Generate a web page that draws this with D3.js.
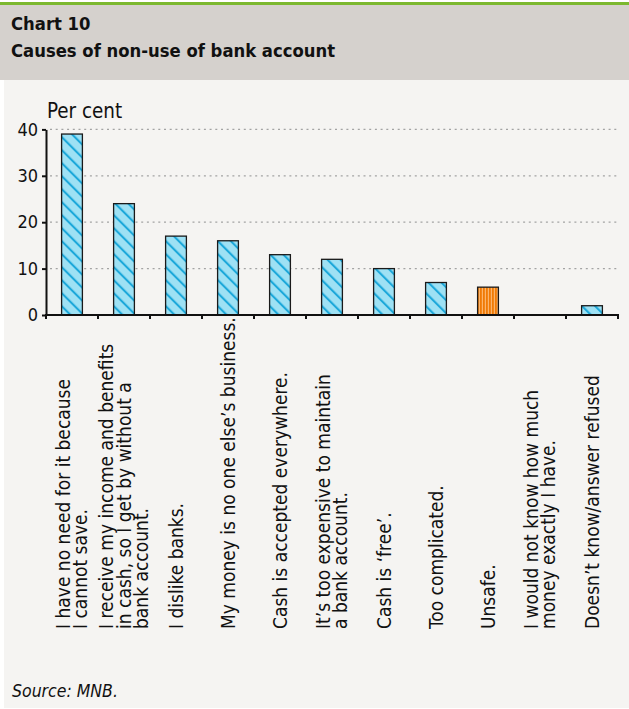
<!DOCTYPE html>
<html>
<head>
<meta charset="utf-8">
<script src="https://cdn.jsdelivr.net/npm/d3@7"></script>
<style>
  body { margin: 0; background: #ffffff; }
  svg { display: block; }
  text { font-family: "DejaVu Sans Condensed", "DejaVu Sans", sans-serif; font-stretch: condensed; fill: #111; }
</style>
</head>
<body>
<svg id="chart" width="629" height="709"></svg>
<script>
// Survey answers: why respondents do not use a bank account (per cent)
const categories = [
  ["I have no need for it because", "I cannot save."],
  ["I receive my income and benefits", "in cash, so I get by without a", "bank account."],
  ["I dislike banks."],
  ["My money is no one else’s business."],
  ["Cash is accepted everywhere."],
  ["It’s too expensive to maintain", "a bank account."],
  ["Cash is ‘free’."],
  ["Too complicated."],
  ["Unsafe."],
  ["I would not know how much", "money exactly I have."],
  ["Doesn’t know/answer refused"]
];
const values = [39, 24, 17, 16, 13, 12, 10, 7, 6, 0, 2];
const highlighted = [false, false, false, false, false, false, false, false, true, false, false];
const yTicks = [0, 10, 20, 30, 40];

const W = 629, H = 709;
const plot = { left: 46, right: 618, bottom: 315, top: 129.4 };

const svg = d3.select("#chart");

// Panel backgrounds
svg.append("rect").attr("x", 0).attr("y", 0).attr("width", W).attr("height", H).attr("fill", "#ffffff");
svg.append("rect").attr("x", 4).attr("y", 80).attr("width", W - 4).attr("height", H - 81).attr("fill", "#f5f4f2");
svg.append("rect").attr("x", 0).attr("y", 5).attr("width", W).attr("height", 75).attr("fill", "#d5d1cd");
svg.append("rect").attr("x", 0).attr("y", 2).attr("width", W).attr("height", 3).attr("fill", "#7cb82f");

// Heading
svg.append("text").attr("x", 11).attr("y", 30)
  .style("font-size", "18.3px").style("font-weight", "bold").text("Chart 10");
svg.append("text").attr("x", 11).attr("y", 57)
  .style("font-size", "18.3px").style("font-weight", "bold").text("Causes of non-use of bank account");

// Fill patterns
const defs = svg.append("defs");
const hatch = defs.append("pattern")
  .attr("id", "hatch").attr("patternUnits", "userSpaceOnUse")
  .attr("width", 9.2).attr("height", 9.2)
  .attr("patternTransform", "rotate(-45)");
hatch.append("rect").attr("width", 9.2).attr("height", 9.2).attr("fill", "#9ee1f4");
hatch.append("line").attr("x1", 2).attr("y1", 0).attr("x2", 2).attr("y2", 9.2)
  .attr("stroke", "#17a6d9").attr("stroke-width", 2);

const stripes = defs.append("pattern")
  .attr("id", "stripes").attr("patternUnits", "userSpaceOnUse")
  .attr("width", 3).attr("height", 3);
stripes.append("rect").attr("width", 3).attr("height", 3).attr("fill", "#f07a05");
stripes.append("rect").attr("x", 1.8).attr("width", 1.2).attr("height", 3).attr("fill", "#fbb46c");

// Scales
const idx = d3.range(categories.length);
const x = d3.scaleBand().domain(idx).range([plot.left, plot.right])
  .paddingInner(0.6).paddingOuter(0.3);
const y = d3.scaleLinear().domain([0, 40]).range([plot.bottom, plot.top]);

// Dotted gridlines
svg.append("g").selectAll("line")
  .data(yTicks.filter(t => t > 0))
  .join("line")
  .attr("x1", plot.left + 4).attr("x2", plot.right)
  .attr("y1", d => y(d)).attr("y2", d => y(d))
  .attr("stroke", "#a3a3a3").attr("stroke-width", 1.3)
  .attr("stroke-dasharray", "2,3.7");

// Bars
svg.append("g").selectAll("rect")
  .data(idx)
  .join("rect")
  .attr("x", i => x(i))
  .attr("width", x.bandwidth())
  .attr("y", i => y(values[i]))
  .attr("height", i => y(0) - y(values[i]))
  .attr("fill", i => highlighted[i] ? "url(#stripes)" : "url(#hatch)")
  .attr("stroke", i => values[i] > 0 ? "#1a1a1a" : "none")
  .attr("stroke-width", 1.3);

// Y axis
const yAxis = svg.append("g")
  .attr("transform", `translate(${plot.left},0)`)
  .call(d3.axisLeft(y).tickValues(yTicks).tickSize(4).tickSizeOuter(0).tickPadding(4));
yAxis.select(".domain").attr("stroke", "#111").attr("stroke-width", 2);
yAxis.selectAll(".tick line").attr("stroke", "#111").attr("stroke-width", 2);
yAxis.selectAll(".tick text")
  .style("font-family", "'DejaVu Sans Condensed', 'DejaVu Sans', sans-serif")
  .style("font-stretch", "condensed")
  .style("font-size", "18px").attr("fill", "#111");

// X axis baseline with ticks at category boundaries
const step = x.step();
const boundaries = d3.range(categories.length + 1).map(k =>
  k < categories.length ? x(k) - x.paddingInner() * step / 2 - (k === 0 ? (x.paddingOuter() - x.paddingInner() / 2) * step : 0)
                        : plot.right);
const xAxis = svg.append("g");
xAxis.append("line")
  .attr("x1", plot.left - 1).attr("x2", plot.right + 1)
  .attr("y1", y(0)).attr("y2", y(0))
  .attr("stroke", "#111").attr("stroke-width", 2);
xAxis.selectAll("line.tick")
  .data(boundaries)
  .join("line").attr("class", "tick")
  .attr("x1", d => d).attr("x2", d => d)
  .attr("y1", y(0)).attr("y2", y(0) + 4)
  .attr("stroke", "#111").attr("stroke-width", 2);

// Rotated category labels, bottom aligned
const lineH = 17.5;
const labels = svg.append("g").selectAll("text")
  .data(idx)
  .join("text")
  .attr("transform", i => `translate(${x(i) + x.bandwidth() / 2},629) rotate(-90)`)
  .style("font-size", "19px");
labels.each(function(i) {
  const lines = categories[i];
  const n = lines.length;
  d3.select(this).selectAll("tspan")
    .data(lines)
    .join("tspan")
    .attr("x", 0)
    .attr("y", (d, k) => (k - (n - 1) / 2) * lineH)
    .attr("dy", "0.35em")
    .text(d => d);
});

// Unit label
svg.append("text").attr("x", 47).attr("y", 118)
  .style("font-size", "20.4px").text("Per cent");

// Source
svg.append("text").attr("x", 12).attr("y", 697)
  .style("font-size", "17.5px").style("font-style", "italic").text("Source: MNB.");
</script>
</body>
</html>
